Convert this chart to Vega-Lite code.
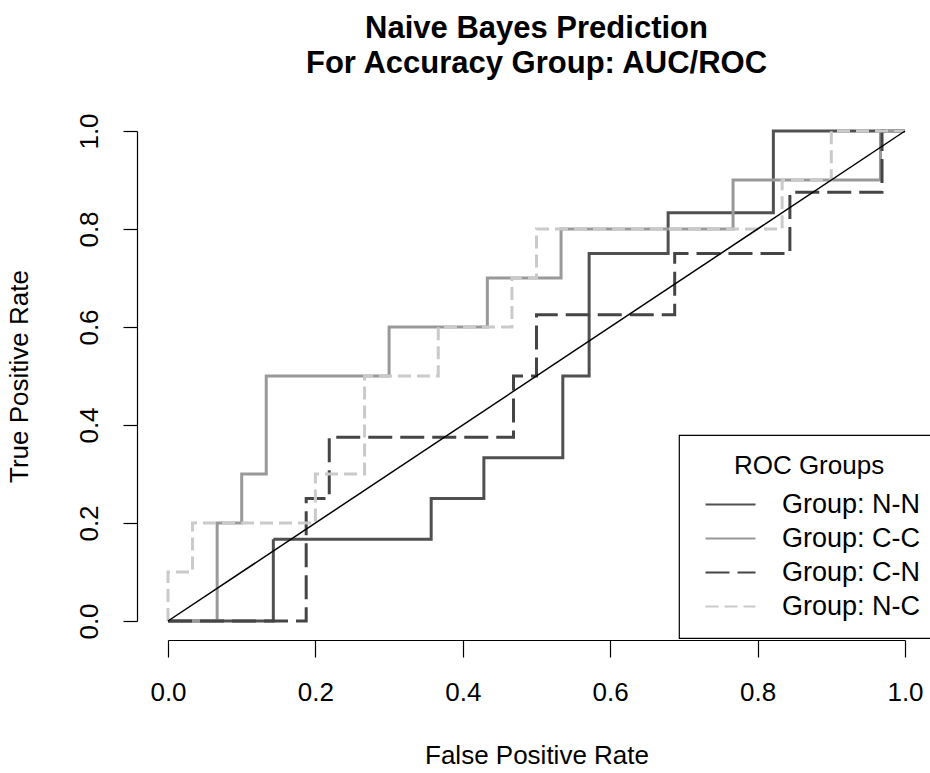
{
  "$schema": "https://vega.github.io/schema/vega-lite/v6.json",
  "autosize": "none",
  "width": 737,
  "height": 490,
  "padding": {"left": 168, "top": 131, "right": 25, "bottom": 152},
  "background": "white",
  "title": {
    "text": ["Naive Bayes Prediction", "For Accuracy Group: AUC/ROC"],
    "font": "Liberation Sans",
    "fontSize": 31,
    "fontWeight": "bold",
    "color": "black",
    "lineHeight": 35,
    "anchor": "middle",
    "offset": 33
  },
  "config": {
    "view": {"stroke": null},
    "axis": {
      "grid": false,
      "labelFlush": false,
      "domainColor": "black",
      "domainWidth": 1.2,
      "tickColor": "black",
      "tickWidth": 1.2,
      "labelFont": "Liberation Sans",
      "labelFontSize": 26,
      "labelColor": "black",
      "titleFont": "Liberation Sans",
      "titleFontSize": 26,
      "titleFontWeight": "normal",
      "titleColor": "black"
    },
    "legend": {
      "orient": "none",
      "legendX": 511,
      "legendY": 304,
      "strokeColor": "black",
      "strokeWidth": 1.2,
      "fillColor": "white",
      "padding": 18,
      "titleFont": "Liberation Sans",
      "titleFontSize": 26,
      "titleFontWeight": "normal",
      "titleColor": "black",
      "titleAnchor": "middle",
      "titlePadding": 12,
      "labelFont": "Liberation Sans",
      "labelFontSize": 27,
      "labelColor": "black",
      "symbolType": "M-2.5,0H2.5",
      "symbolSize": 400,
      "symbolStrokeWidth": 2,
      "symbolOffset": 20,
      "labelOffset": 38,
      "rowPadding": 6
    }
  },
  "datasets": {
    "roc": [
      {"g": "Group: N-N", "i": 0, "x": 0, "y": 0},
      {"g": "Group: N-N", "i": 1, "x": 0.1429, "y": 0},
      {"g": "Group: N-N", "i": 2, "x": 0.1429, "y": 0.1667},
      {"g": "Group: N-N", "i": 3, "x": 0.3571, "y": 0.1667},
      {"g": "Group: N-N", "i": 4, "x": 0.3571, "y": 0.25},
      {"g": "Group: N-N", "i": 5, "x": 0.4286, "y": 0.25},
      {"g": "Group: N-N", "i": 6, "x": 0.4286, "y": 0.3333},
      {"g": "Group: N-N", "i": 7, "x": 0.5357, "y": 0.3333},
      {"g": "Group: N-N", "i": 8, "x": 0.5357, "y": 0.5},
      {"g": "Group: N-N", "i": 9, "x": 0.5714, "y": 0.5},
      {"g": "Group: N-N", "i": 10, "x": 0.5714, "y": 0.75},
      {"g": "Group: N-N", "i": 11, "x": 0.6786, "y": 0.75},
      {"g": "Group: N-N", "i": 12, "x": 0.6786, "y": 0.8333},
      {"g": "Group: N-N", "i": 13, "x": 0.8214, "y": 0.8333},
      {"g": "Group: N-N", "i": 14, "x": 0.8214, "y": 1},
      {"g": "Group: N-N", "i": 15, "x": 1, "y": 1},

      {"g": "Group: C-C", "i": 0, "x": 0, "y": 0},
      {"g": "Group: C-C", "i": 1, "x": 0.0667, "y": 0},
      {"g": "Group: C-C", "i": 2, "x": 0.0667, "y": 0.2},
      {"g": "Group: C-C", "i": 3, "x": 0.1, "y": 0.2},
      {"g": "Group: C-C", "i": 4, "x": 0.1, "y": 0.3},
      {"g": "Group: C-C", "i": 5, "x": 0.1333, "y": 0.3},
      {"g": "Group: C-C", "i": 6, "x": 0.1333, "y": 0.5},
      {"g": "Group: C-C", "i": 7, "x": 0.3, "y": 0.5},
      {"g": "Group: C-C", "i": 8, "x": 0.3, "y": 0.6},
      {"g": "Group: C-C", "i": 9, "x": 0.4333, "y": 0.6},
      {"g": "Group: C-C", "i": 10, "x": 0.4333, "y": 0.7},
      {"g": "Group: C-C", "i": 11, "x": 0.5333, "y": 0.7},
      {"g": "Group: C-C", "i": 12, "x": 0.5333, "y": 0.8},
      {"g": "Group: C-C", "i": 13, "x": 0.7667, "y": 0.8},
      {"g": "Group: C-C", "i": 14, "x": 0.7667, "y": 0.9},
      {"g": "Group: C-C", "i": 15, "x": 0.9667, "y": 0.9},
      {"g": "Group: C-C", "i": 16, "x": 0.9667, "y": 1},
      {"g": "Group: C-C", "i": 17, "x": 1, "y": 1},

      {"g": "Group: C-N", "i": 0, "x": 0, "y": 0},
      {"g": "Group: C-N", "i": 1, "x": 0.1875, "y": 0},
      {"g": "Group: C-N", "i": 2, "x": 0.1875, "y": 0.25},
      {"g": "Group: C-N", "i": 3, "x": 0.2188, "y": 0.25},
      {"g": "Group: C-N", "i": 4, "x": 0.2188, "y": 0.375},
      {"g": "Group: C-N", "i": 5, "x": 0.4688, "y": 0.375},
      {"g": "Group: C-N", "i": 6, "x": 0.4688, "y": 0.5},
      {"g": "Group: C-N", "i": 7, "x": 0.5, "y": 0.5},
      {"g": "Group: C-N", "i": 8, "x": 0.5, "y": 0.625},
      {"g": "Group: C-N", "i": 9, "x": 0.6875, "y": 0.625},
      {"g": "Group: C-N", "i": 10, "x": 0.6875, "y": 0.75},
      {"g": "Group: C-N", "i": 11, "x": 0.8438, "y": 0.75},
      {"g": "Group: C-N", "i": 12, "x": 0.8438, "y": 0.875},
      {"g": "Group: C-N", "i": 13, "x": 0.9688, "y": 0.875},
      {"g": "Group: C-N", "i": 14, "x": 0.9688, "y": 1},
      {"g": "Group: C-N", "i": 15, "x": 1, "y": 1},

      {"g": "Group: N-C", "i": 0, "x": 0, "y": 0},
      {"g": "Group: N-C", "i": 1, "x": 0, "y": 0.1},
      {"g": "Group: N-C", "i": 2, "x": 0.0333, "y": 0.1},
      {"g": "Group: N-C", "i": 3, "x": 0.0333, "y": 0.2},
      {"g": "Group: N-C", "i": 4, "x": 0.2, "y": 0.2},
      {"g": "Group: N-C", "i": 5, "x": 0.2, "y": 0.3},
      {"g": "Group: N-C", "i": 6, "x": 0.2667, "y": 0.3},
      {"g": "Group: N-C", "i": 7, "x": 0.2667, "y": 0.5},
      {"g": "Group: N-C", "i": 8, "x": 0.3667, "y": 0.5},
      {"g": "Group: N-C", "i": 9, "x": 0.3667, "y": 0.6},
      {"g": "Group: N-C", "i": 10, "x": 0.4667, "y": 0.6},
      {"g": "Group: N-C", "i": 11, "x": 0.4667, "y": 0.7},
      {"g": "Group: N-C", "i": 12, "x": 0.5, "y": 0.7},
      {"g": "Group: N-C", "i": 13, "x": 0.5, "y": 0.8},
      {"g": "Group: N-C", "i": 14, "x": 0.8333, "y": 0.8},
      {"g": "Group: N-C", "i": 15, "x": 0.8333, "y": 0.9},
      {"g": "Group: N-C", "i": 16, "x": 0.9, "y": 0.9},
      {"g": "Group: N-C", "i": 17, "x": 0.9, "y": 1},
      {"g": "Group: N-C", "i": 18, "x": 1, "y": 1}
    ],
    "diag": [{"x": 0, "y": 0, "x2": 1, "y2": 1}]
  },
  "layer": [
    {
      "data": {"name": "roc"},
      "mark": {"type": "line", "strokeWidth": 3, "strokeCap": "butt", "strokeJoin": "miter"},
      "encoding": {
        "x": {
          "field": "x", "type": "quantitative",
          "scale": {"domain": [0, 1], "nice": false, "zero": false},
          "axis": {"title": "False Positive Rate", "values": [0, 0.2, 0.4, 0.6, 0.8, 1], "format": ".1f",
                   "offset": 19, "tickSize": 17, "labelPadding": 22, "titlePadding": 37}
        },
        "y": {
          "field": "y", "type": "quantitative",
          "scale": {"domain": [0, 1], "nice": false, "zero": false},
          "axis": {"title": "True Positive Rate", "values": [0, 0.2, 0.4, 0.6, 0.8, 1], "format": ".1f",
                   "offset": 31, "tickSize": 14, "labelAngle": -90, "labelAlign": "center", "labelBaseline": "bottom",
                   "labelPadding": 21, "titlePadding": 44}
        },
        "order": {"field": "i", "type": "quantitative"},
        "color": {
          "field": "g", "type": "nominal", "title": "ROC Groups",
          "scale": {"domain": ["Group: N-N", "Group: C-C", "Group: C-N", "Group: N-C"],
                    "range": ["#505050", "#999999", "#454545", "#cacaca"]}
        },
        "strokeDash": {
          "field": "g", "type": "nominal", "title": "ROC Groups",
          "scale": {"domain": ["Group: N-N", "Group: C-C", "Group: C-N", "Group: N-C"],
                    "range": [[1, 0], [1, 0], [24, 8], [13, 6]]}
        }
      }
    },
    {
      "data": {"name": "diag"},
      "mark": {"type": "rule", "color": "black", "strokeWidth": 1.5},
      "encoding": {
        "x": {"field": "x", "type": "quantitative"},
        "y": {"field": "y", "type": "quantitative"},
        "x2": {"field": "x2"},
        "y2": {"field": "y2"}
      }
    }
  ]
}
